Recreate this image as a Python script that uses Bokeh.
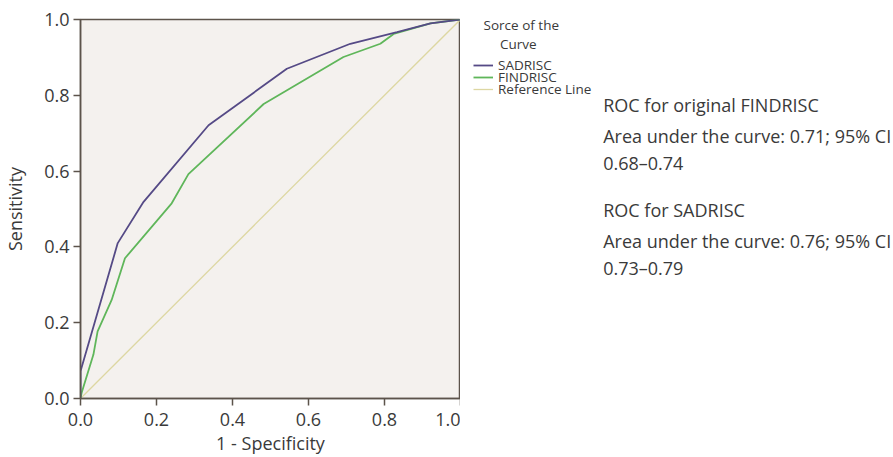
from bokeh.plotting import figure
from bokeh.layouts import row
from bokeh.models import Range1d, FixedTicker, Label, Legend, LegendItem
from bokeh.embed import file_html
from bokeh.resources import INLINE

# ---------------- data ----------------
sadrisc_fpr = [0.0, 0.0, 0.098, 0.166, 0.337, 0.543, 0.71, 0.833, 0.921, 1.0]
sadrisc_tpr = [0.0, 0.072, 0.41, 0.519, 0.721, 0.87, 0.936, 0.967, 0.99, 1.0]

findrisc_fpr = [0.0, 0.003, 0.034, 0.045, 0.082, 0.117, 0.24, 0.284, 0.482, 0.692, 0.789, 0.824, 0.921, 1.0]
findrisc_tpr = [0.0, 0.015, 0.116, 0.177, 0.26, 0.37, 0.515, 0.592, 0.777, 0.901, 0.936, 0.962, 0.99, 1.0]

reference_x = [0.0, 1.0]
reference_y = [0.0, 1.0]

tick_values = [0.0, 0.2, 0.4, 0.6, 0.8, 1.0]
tick_labels = ["0.0", "0.2", "0.4", "0.6", "0.8", "1.0"]

series_names = ["SADRISC", "FINDRISC", "Reference Line"]
legend_title_lines = ["Sorce of the", "Curve"]
x_title = "1 - Specificity"
y_title = "Sensitivity"

annotation_lines = [
    "ROC for original FINDRISC",
    "Area under the curve: 0.71; 95% CI",
    "0.68\u20130.74",
    "ROC for SADRISC",
    "Area under the curve: 0.76; 95% CI",
    "0.73\u20130.79",
]

# ---------------- style ----------------
FONT = "Open Sans"
TEXT_COLOR = "#3a3a3a"
AXIS_COLOR = "#5c534b"
PURPLE = "#554a86"
GREEN = "#5fb65a"
REF = "#ddd7a2"
LINE_W = {"SADRISC": 1.8, "FINDRISC": 1.8, "Reference Line": 1.3}
COLORS = {"SADRISC": PURPLE, "FINDRISC": GREEN, "Reference Line": REF}

W_MAIN = 460
W_SIDE = 893 - W_MAIN
H = 457
FRAME_TOP = 19
FRAME_BOTTOM = 399
LABEL_DY = 6  # label rendering sits a little below its anchor; compensate

# ---------------- main ROC plot ----------------
p = figure(
    width=W_MAIN, height=H,
    x_range=Range1d(0, 1), y_range=Range1d(0, 1),
    output_backend="svg", toolbar_location=None,
    min_border_left=80, min_border_right=0,
    min_border_top=FRAME_TOP, min_border_bottom=H - FRAME_BOTTOM,
)
p.background_fill_color = "#f4f1ee"
p.border_fill_color = "white"
p.outline_line_color = AXIS_COLOR
p.outline_line_width = 1.5
p.grid.visible = False

for ax in (p.xaxis[0], p.yaxis[0]):
    ax.ticker = FixedTicker(ticks=tick_values)
    ax.major_label_overrides = dict(zip(tick_values, tick_labels))
    ax.minor_tick_line_color = None
    ax.major_tick_in = 0
    ax.major_tick_out = 7
    ax.axis_line_color = AXIS_COLOR
    ax.axis_line_width = 1.5
    ax.major_tick_line_color = AXIS_COLOR
    ax.major_tick_line_width = 1.5
    ax.major_label_text_font = FONT
    ax.major_label_text_font_size = "18px"
    ax.major_label_text_color = TEXT_COLOR
    ax.axis_label_text_font = FONT
    ax.axis_label_text_font_size = "18px"
    ax.axis_label_text_font_style = "normal"
    ax.axis_label_text_color = TEXT_COLOR

p.yaxis[0].axis_label = y_title
p.yaxis[0].major_label_standoff = 4
p.yaxis[0].axis_label_standoff = 14
p.xaxis[0].axis_label = x_title
p.xaxis[0].major_label_standoff = 7
p.xaxis[0].axis_label_standoff = 2

r_ref = p.line(reference_x, reference_y, line_color=REF, line_width=LINE_W["Reference Line"])
r_find = p.line(findrisc_fpr, findrisc_tpr, line_color=GREEN, line_width=LINE_W["FINDRISC"])
r_sad = p.line(sadrisc_fpr, sadrisc_tpr, line_color=PURPLE, line_width=LINE_W["SADRISC"])

# ---------------- side panel: legend + annotation text ----------------
# The side frame is aligned with the main frame (page y 19..399);
# ranges are set so that data units equal page pixels.
s = figure(
    width=W_SIDE, height=H,
    x_range=Range1d(W_MAIN, 893), y_range=Range1d(FRAME_BOTTOM, FRAME_TOP),
    output_backend="svg", toolbar_location=None,
    min_border_left=0, min_border_right=0,
    min_border_top=FRAME_TOP, min_border_bottom=H - FRAME_BOTTOM,
)
s.axis.visible = False
s.grid.visible = False
s.outline_line_color = None
s.background_fill_color = "white"
s.border_fill_color = "white"

# legend title (two centred lines)
title_pos = [(520.8, 30.3), (517.8, 49.5)]
for (tx, ty), t in zip(title_pos, legend_title_lines):
    s.add_layout(Label(x=tx, y=ty - LABEL_DY, text=t, text_align="center",
                       text_baseline="alphabetic",
                       text_font=FONT, text_font_size="13.5px", text_color=TEXT_COLOR))

# legend entries (style samples only; the NaN source draws nothing)
nan = float("nan")
legend_bottoms = [75.2, 86.7, 98.7]
for name, lb in zip(series_names, legend_bottoms):
    rend = s.line(x=[nan], y=[nan], line_color=COLORS[name], line_width=LINE_W[name])
    lg = Legend(items=[LegendItem(label=name, renderers=[rend])],
                location=(13, FRAME_BOTTOM - lb),
                padding=0, margin=0, spacing=0, glyph_width=20, glyph_height=12,
                label_height=12, label_standoff=5,
                label_text_font=FONT, label_text_font_size="13.5px",
                label_text_color=TEXT_COLOR,
                background_fill_alpha=0, border_line_alpha=0)
    s.add_layout(lg)

# annotation text
ann_x = 602.7
ann_baselines = [110.7, 142.3, 169.0, 215.7, 247.3, 274.0]
for t, ay in zip(annotation_lines, ann_baselines):
    s.add_layout(Label(x=ann_x, y=ay - LABEL_DY, text=t, text_align="left",
                       text_baseline="alphabetic",
                       text_font=FONT, text_font_size="18px", text_color=TEXT_COLOR))

layout = row(p, s, spacing=0)
open("out.html", "w").write(file_html(layout, INLINE))
